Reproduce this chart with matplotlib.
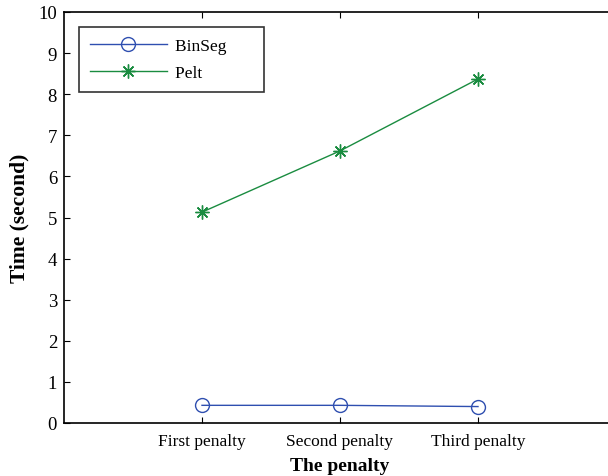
import matplotlib
matplotlib.use('Agg')
from matplotlib import pyplot as plt

# data
penalties = ['First penalty', 'Second penalty', 'Third penalty']
binseg = [0.43, 0.43, 0.40]
pelt = [5.13, 6.62, 8.37]

plt.rcParams['font.family'] = ['Liberation Serif', 'DejaVu Serif']
plt.rcParams['font.size'] = 12.5

fig = plt.figure(figsize=(6.08, 4.77), dpi=100)
# right edge of the axes runs past the figure, as in the cropped original
ax = fig.add_axes([64 / 608, 53 / 477, 552 / 608, 411 / 477])

x = [1, 2, 3]
ax.plot(x, binseg, '-o', color='#2f4fb0', lw=1, ms=10, mfc='none', mew=1, label='BinSeg')
ax.plot(x, pelt, '-', marker=(8, 2, 0), color='#1a8c40', lw=1, ms=10, mew=1, label='Pelt')

ax.set_xlim(0, 4)
ax.set_ylim(0, 10)
ax.set_xticks(x)
ax.set_xticklabels(penalties)
ax.set_yticks(range(0, 11))
ax.tick_params(direction='in', length=4, width=0.8, top=True, right=False, pad=5)
ax.tick_params(axis='x', pad=7)
ax.tick_params(axis='y', labelsize=13.5)
for s in ax.spines.values():
    s.set_linewidth(1.2)

ax.set_xlabel('The penalty', fontsize=14, fontweight='bold', labelpad=6)
ax.set_ylabel('Time (second)', fontsize=15.5, fontweight='bold', labelpad=6)

# trailing spaces widen the box like the MATLAB legend
h, l = ax.get_legend_handles_labels()
l = [s + '\u2002' * 3 for s in l]
leg = ax.legend(h, l, loc='upper left', bbox_to_anchor=(15 / 552, 1 - 15 / 411), fancybox=False,
                edgecolor='black', handlelength=4.4, borderpad=0.65, labelspacing=0.6,
                borderaxespad=0, handletextpad=0.5, fontsize=12.5)
leg.get_frame().set_linewidth(1.2)

fig.savefig('out.png', dpi=100)
